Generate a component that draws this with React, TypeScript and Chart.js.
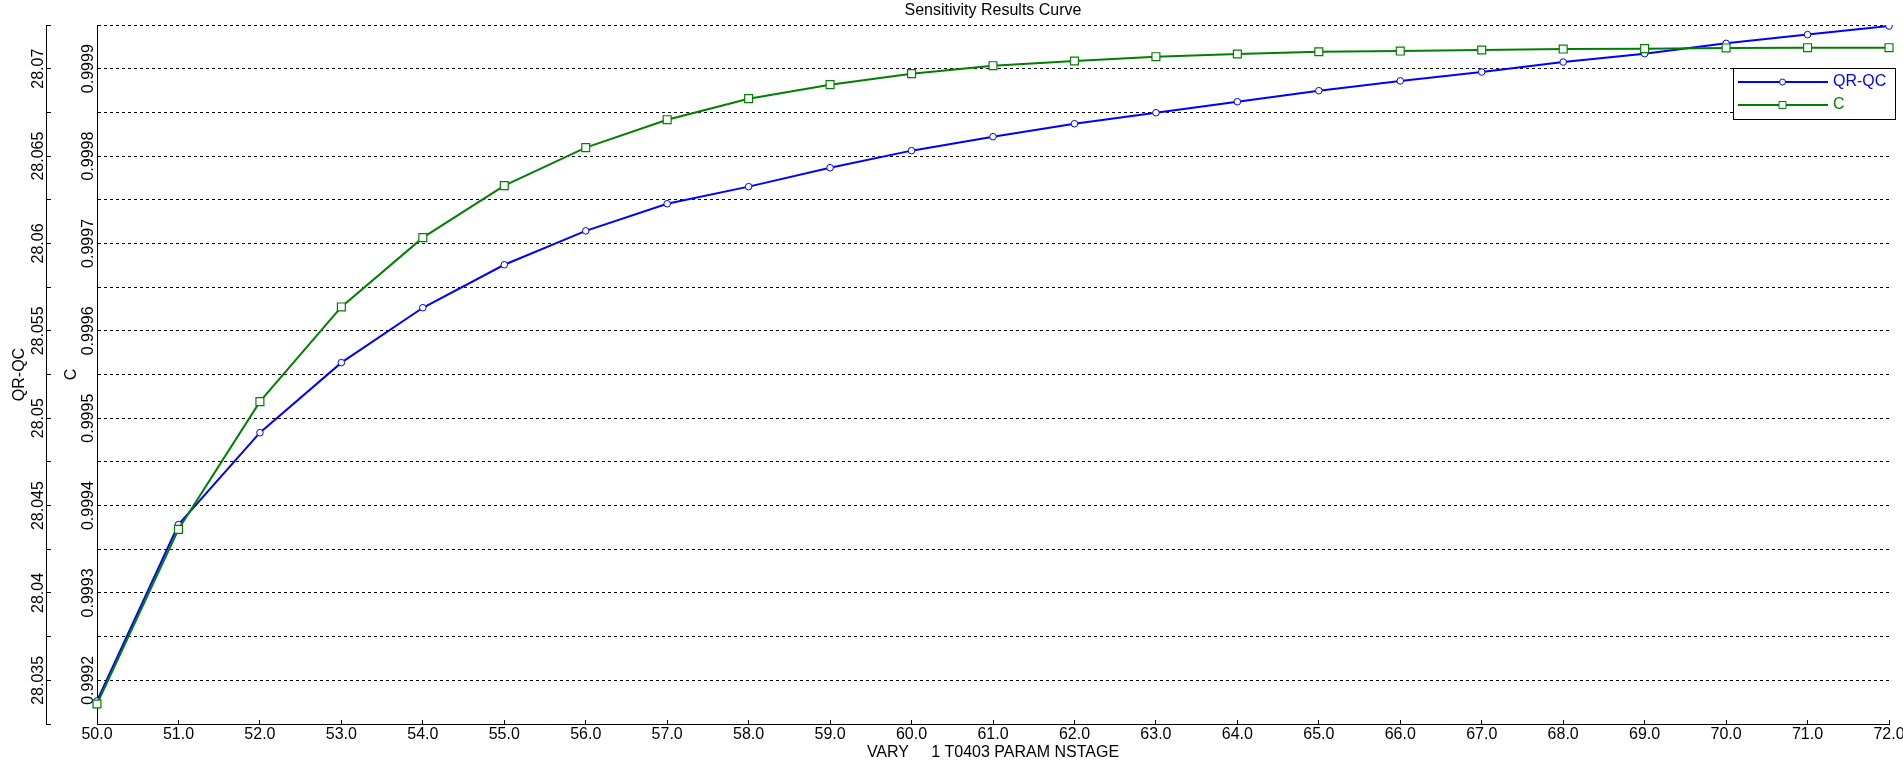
import React, { useEffect, useRef } from 'react';
import { Chart, registerables } from 'chart.js';

Chart.register(...registerables);

// ---- data ----
const xLabels = [
  '50.0', '51.0', '52.0', '53.0', '54.0', '55.0', '56.0', '57.0', '58.0', '59.0', '60.0', '61.0',
  '62.0', '63.0', '64.0', '65.0', '66.0', '67.0', '68.0', '69.0', '70.0', '71.0', '72.0',
];

const qrQcValues = [
  28.03382, 28.04391, 28.04917, 28.05318, 28.05632, 28.05878, 28.06072, 28.06227, 28.06325,
  28.06433, 28.06531, 28.06611, 28.06685, 28.06748, 28.06811, 28.06874, 28.0693, 28.06981,
  28.07038, 28.07086, 28.07145, 28.07195, 28.07244,
];

const cValues = [
  0.9991729, 0.9993728, 0.9995189, 0.9996273, 0.9997066, 0.9997661, 0.9998096, 0.9998416,
  0.9998657, 0.9998817, 0.9998943, 0.9999034, 0.9999088, 0.9999137, 0.9999168, 0.9999194,
  0.9999202, 0.9999214, 0.9999225, 0.9999229, 0.9999237, 0.999924, 0.999924,
];

const qrTickLabels = ['28.035', '28.04', '28.045', '28.05', '28.055', '28.06', '28.065', '28.07'];
const cTickLabels = ['0.9992', '0.9993', '0.9994', '0.9995', '0.9996', '0.9997', '0.9998', '0.9999'];

const chartTitle = 'Sensitivity Results Curve';
const xAxisTitle = 'VARY     1 T0403 PARAM NSTAGE';
const qrAxisTitle = 'QR-QC';
const cAxisTitle = 'C';

const FONT = '"Liberation Sans", Arial, Helvetica, sans-serif';

const pickLabel = (labels: string[], value: number) => {
  const hit = labels.find((l) => Math.abs(parseFloat(l) - value) < 1e-6);
  return hit ?? '';
};

// Build ticks at every half label step between the axis bounds
const halfStepTicks = (labels: string[]) => (scale: any) => {
  const a = parseFloat(labels[0]);
  const b = parseFloat(labels[1]);
  const half = (b - a) / 2;
  const min = scale.min;
  const max = scale.max;
  const n = Math.round((max - min) / half);
  const ticks: { value: number }[] = [];
  for (let i = 0; i <= n; i++) ticks.push({ value: min + i * half });
  scale.ticks = ticks;
};

const boxLegend = {
  id: 'boxLegend',
  afterDraw(chart: any) {
    const { ctx, chartArea } = chart;
    const left = Math.round(chartArea.right - 156) + 0.5;
    const top = Math.round(chartArea.top + 44) - 0.5;
    const w = 162;
    const h = 51;
    ctx.save();
    ctx.fillStyle = '#ffffff';
    ctx.fillRect(left, top, w, h);
    ctx.strokeStyle = '#000000';
    ctx.lineWidth = 1;
    ctx.setLineDash([]);
    ctx.strokeRect(left, top, w, h);
    chart.data.datasets.forEach((ds: any, i: number) => {
      const y = Math.round(top + 13.5 + i * 23);
      ctx.strokeStyle = ds.borderColor;
      ctx.lineWidth = 2;
      ctx.beginPath();
      ctx.moveTo(left + 4.5, y);
      ctx.lineTo(left + 94.5, y);
      ctx.stroke();
      const mx = left + 49;
      ctx.fillStyle = '#ffffff';
      ctx.lineWidth = 1;
      ctx.beginPath();
      if (ds.pointStyle === 'rect') {
        ctx.rect(mx - 3.5, y - 3.5, 7, 7);
      } else {
        ctx.arc(mx, y, 3, 0, Math.PI * 2);
      }
      ctx.fill();
      ctx.stroke();
      ctx.fillStyle = ds.borderColor;
      ctx.font = `16px ${FONT}`;
      ctx.textAlign = 'left';
      ctx.textBaseline = 'middle';
      ctx.fillText(ds.label, left + 99.5, y);
    });
    ctx.restore();
  },
};

export default function App() {
  const canvasRef = useRef<HTMLCanvasElement | null>(null);

  useEffect(() => {
    if (!canvasRef.current) return;
    Chart.defaults.font.family = FONT;
    Chart.defaults.font.size = 16;
    Chart.defaults.color = '#000000';

    const chart = new Chart(canvasRef.current, {
      type: 'line',
      data: {
        labels: xLabels,
        datasets: [
          {
            label: 'QR-QC',
            data: qrQcValues,
            yAxisID: 'yQR',
            borderColor: '#0000ff',
            backgroundColor: '#ffffff',
            borderWidth: 2,
            pointStyle: 'circle',
            pointRadius: 3.3,
            pointBorderWidth: 1,
            pointBackgroundColor: '#ffffff',
            pointBorderColor: '#0000ff',
            tension: 0,
            fill: false,
            order: 1,
          },
          {
            label: 'C',
            data: cValues,
            yAxisID: 'yC',
            borderColor: '#008000',
            backgroundColor: '#ffffff',
            borderWidth: 2,
            pointStyle: 'rect',
            pointRadius: 5.6,
            pointBorderWidth: 1.2,
            pointBackgroundColor: '#ffffff',
            pointBorderColor: '#008000',
            tension: 0,
            fill: false,
            order: 0,
          },
        ],
      },
      options: {
        responsive: false,
        animation: false,
        events: [],
        layout: { padding: { left: 0, right: 14, top: 0, bottom: 0 } },
        plugins: {
          legend: { display: false },
          tooltip: { enabled: false },
          title: {
            display: true,
            text: chartTitle,
            fullSize: false,
            color: '#000000',
            font: { size: 16, weight: 'normal', family: FONT },
            padding: { top: 1, bottom: 4.8 },
          },
        },
        scales: {
          x: {
            type: 'category',
            position: 'bottom',
            offset: false,
            grid: {
              drawOnChartArea: false,
              drawTicks: true,
              tickLength: -4,
              tickColor: '#000000',
              offset: false,
            },
            border: { display: true, color: '#000000', width: 1 },
            ticks: {
              autoSkip: false,
              maxRotation: 0,
              minRotation: 0,
              padding: 5,
              color: '#000000',
              font: { size: 16, family: FONT },
            },
            title: {
              display: true,
              text: xAxisTitle,
              color: '#000000',
              font: { size: 16, family: FONT },
              padding: { top: 0, bottom: 2.7 },
            },
            afterFit: (scale: any) => {
              scale.height = 41;
              scale.paddingLeft = 0;
              scale.paddingRight = 0;
            },
          },
          yC: {
            type: 'linear',
            position: 'left',
            weight: 0,
            min: 0.99915,
            max: 0.99995,
            afterBuildTicks: halfStepTicks(cTickLabels),
            grid: {
              drawOnChartArea: true,
              drawTicks: false,
              color: '#000000',
              lineWidth: 1,
            },
            border: { display: true, color: '#000000', width: 1, dash: [3, 3] },
            ticks: {
              autoSkip: false,
              minRotation: 90,
              maxRotation: 90,
              crossAlign: 'center',
              padding: -16,
              color: '#000000',
              font: { size: 16, family: FONT },
              callback: (value: any) => pickLabel(cTickLabels, Number(value)),
            },
            title: {
              display: true,
              text: cAxisTitle,
              color: '#000000',
              font: { size: 16, family: FONT },
              padding: { top: 16.1, bottom: 0 },
            },
            afterFit: (scale: any) => {
              scale.width = 51;
              scale.paddingTop = 0;
              scale.paddingBottom = 0;
            },
          },
          yQR: {
            type: 'linear',
            position: 'left',
            weight: 1,
            min: 28.0325,
            max: 28.0725,
            afterBuildTicks: halfStepTicks(qrTickLabels),
            grid: {
              drawOnChartArea: false,
              drawTicks: true,
              tickLength: -5,
              tickColor: '#000000',
              tickWidth: 1,
            },
            border: { display: true, color: '#000000', width: 1 },
            ticks: {
              autoSkip: false,
              minRotation: 90,
              maxRotation: 90,
              crossAlign: 'center',
              padding: -12.5,
              color: '#000000',
              font: { size: 16, family: FONT },
              callback: (value: any) => pickLabel(qrTickLabels, Number(value)),
            },
            title: {
              display: true,
              text: qrAxisTitle,
              color: '#000000',
              font: { size: 16, family: FONT },
              padding: { top: 10.4, bottom: 0 },
            },
            afterFit: (scale: any) => {
              scale.width = 46;
              scale.paddingTop = 0;
              scale.paddingBottom = 0;
            },
          },
        },
      } as any,
      plugins: [boxLegend],
    });

    return () => {
      chart.destroy();
    };
  }, []);

  return (
    <div style={{ position: 'absolute', left: 0, top: 0, width: 1903, height: 765, background: '#ffffff' }}>
      <canvas ref={canvasRef} width={1903} height={765} style={{ display: 'block' }} />
    </div>
  );
}
